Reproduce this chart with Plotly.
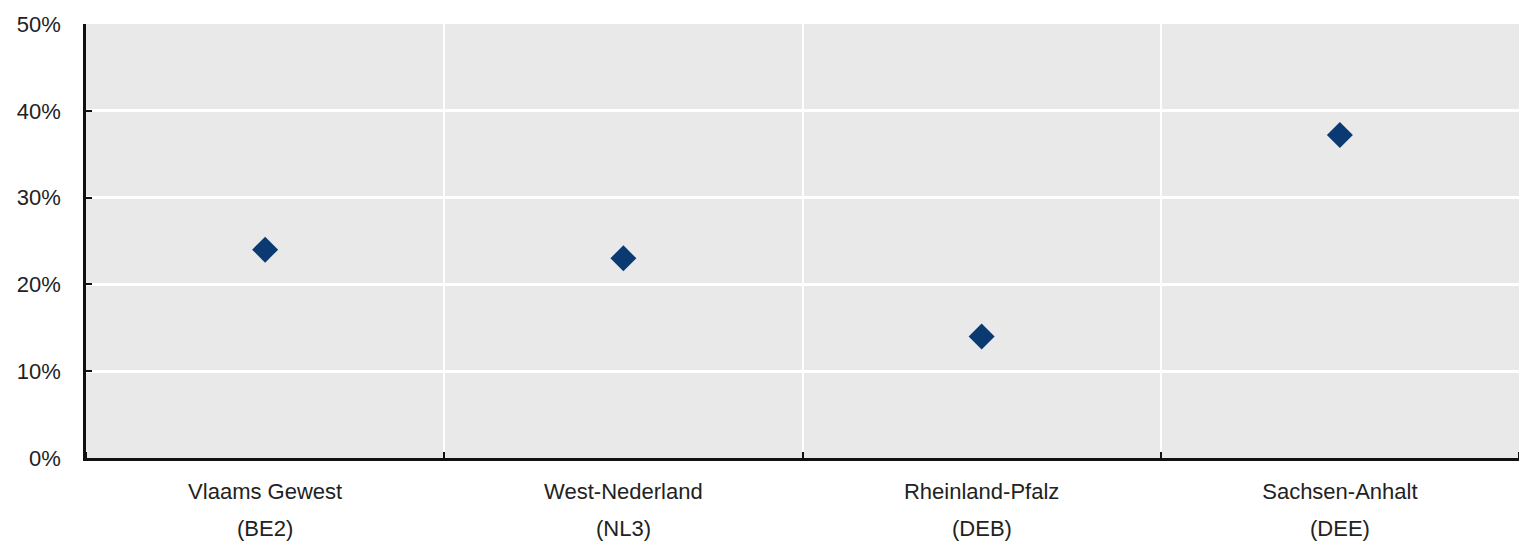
import plotly.graph_objects as go

regions = ["Vlaams Gewest", "West-Nederland", "Rheinland-Pfalz", "Sachsen-Anhalt"]
codes = ["(BE2)", "(NL3)", "(DEB)", "(DEE)"]
values = [24.0, 23.0, 14.0, 37.2]
y_ticks = [0, 10, 20, 30, 40, 50]
y_labels = [f"{v}%" for v in y_ticks]

FONT = "Liberation Sans Narrow, Arial Narrow, Liberation Sans, Arial, sans-serif"
xpos = [i + 0.5 for i in range(len(regions))]

fig = go.Figure()
fig.add_trace(go.Scatter(
    x=xpos, y=values, mode="markers",
    marker=dict(symbol="diamond", size=20, color="#0b3a73", line=dict(width=0)),
    showlegend=False, hoverinfo="skip",
))

for xp, c in zip(xpos, codes):
    fig.add_annotation(x=xp, xref="x", y=0, yref="y", text=c, showarrow=False,
                       yanchor="middle", yshift=-70,
                       font=dict(family=FONT, size=22, color="#222222"))

fig.update_layout(
    width=1511, height=537,
    margin=dict(l=78, r=0, t=16, b=87),
    paper_bgcolor="white", plot_bgcolor="#e9e9e9",
    font=dict(family=FONT, size=22, color="#222222"),
    xaxis=dict(
        range=[0, 4], tickvals=xpos, ticktext=regions, ticks="", showgrid=False,
        zeroline=False, showline=True, linecolor="#111111", linewidth=2.5,
        ticklabelstandoff=12,
        minor=dict(tick0=0, dtick=1, ticks="inside", ticklen=6, tickcolor="#111111",
                   tickwidth=2, showgrid=True, gridcolor="white", gridwidth=2),
        fixedrange=True,
    ),
    yaxis=dict(
        range=[0, 50], tickvals=y_ticks, ticktext=y_labels, ticks="inside",
        ticklen=6, tickwidth=2, tickcolor="#111111",
        showgrid=True, gridcolor="white", gridwidth=3, zeroline=False,
        showline=True, linecolor="#111111", linewidth=2.5,
        ticklabelstandoff=18, fixedrange=True,
    ),
)

fig.write_html("out.html")
